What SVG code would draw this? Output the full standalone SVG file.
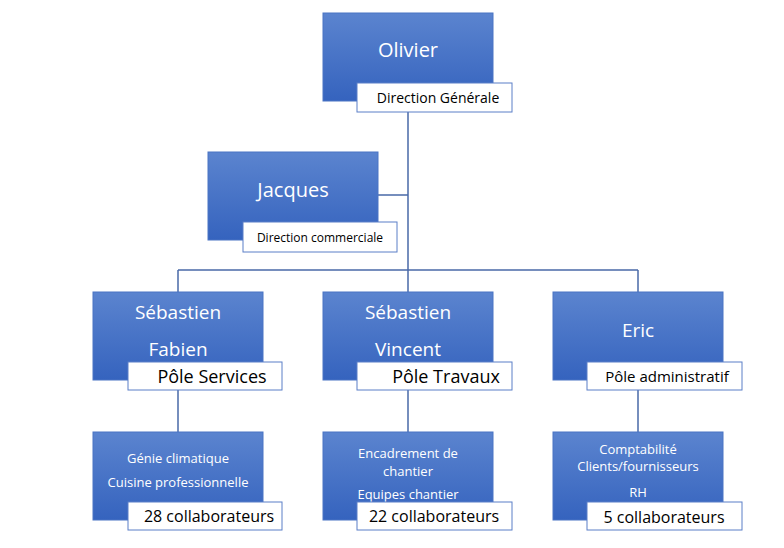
<svg xmlns="http://www.w3.org/2000/svg" width="784" height="548" viewBox="0 0 784 548">
<defs>
<linearGradient id="g" x1="0" y1="0" x2="0" y2="1"><stop offset="0" stop-color="#5b84cf"/><stop offset="1" stop-color="#3563be"/></linearGradient>
<style>
.b{fill:url(#g);stroke:#4a74c4;stroke-width:1}
.l{fill:#fff;stroke:#5b7fc7;stroke-width:1}
.c{stroke:#4a6aa8;stroke-width:1.5;fill:none}
text{font-family:"Open Sans","Liberation Sans",sans-serif;text-anchor:middle}
.w{fill:#fff}
.k{fill:#000}
</style>
</defs>
<rect width="784" height="548" fill="#fff"/>
<g id="connectors">
<path class="c" d="M408 112V270M378 195H408M178 270H638M178 270V292M408 270V292M638 270V292M178 390V432M408 390V432M638 390V432"/>
</g>
<g id="olivier"><rect class="b" x="323" y="13" width="170" height="88"/><text class="w" x="408" y="57" font-size="20">Olivier</text><rect class="l" x="357" y="83" width="155" height="29"/><text class="k" x="438" y="103" font-size="14">Direction Générale</text></g>
<g id="jacques"><rect class="b" x="208" y="152" width="170" height="88"/><text class="w" x="293" y="197" font-size="20">Jacques</text><rect class="l" x="243" y="222" width="154" height="30"/><text class="k" x="320" y="242" font-size="12">Direction commerciale</text></g>
<g id="sebastien1"><rect class="b" x="93" y="292" width="170" height="88"/><text class="w" x="178" y="319" font-size="19">Sébastien</text><text class="w" x="178" y="356" font-size="19">Fabien</text><rect class="l" x="128" y="362" width="154" height="28"/><text class="k" x="212" y="383" font-size="18">Pôle Services</text></g>
<g id="sebastien2"><rect class="b" x="323" y="292" width="170" height="88"/><text class="w" x="408" y="319" font-size="19">Sébastien</text><text class="w" x="408" y="356" font-size="19">Vincent</text><rect class="l" x="357" y="362" width="155" height="28"/><text class="k" x="446" y="383" font-size="18">Pôle Travaux</text></g>
<g id="eric"><rect class="b" x="553" y="292" width="170" height="88"/><text class="w" x="638" y="337" font-size="19">Eric</text><rect class="l" x="587" y="362" width="155" height="28"/><text class="k" x="667" y="382" font-size="15">Pôle administratif</text></g>
<g id="services"><rect class="b" x="93" y="432" width="170" height="88"/><text class="w" x="178" y="463" font-size="13">Génie climatique</text><text class="w" x="178" y="487" font-size="13">Cuisine professionnelle</text><rect class="l" x="128" y="502" width="154" height="28"/><text class="k" x="209" y="522" font-size="16">28 collaborateurs</text></g>
<g id="travaux"><rect class="b" x="323" y="432" width="170" height="88"/><text class="w" x="408" y="458" font-size="13">Encadrement de</text><text class="w" x="408" y="476" font-size="13">chantier</text><text class="w" x="408" y="499" font-size="13">Equipes chantier</text><rect class="l" x="357" y="502" width="155" height="28"/><text class="k" x="434" y="522" font-size="16">22 collaborateurs</text></g>
<g id="admin"><rect class="b" x="553" y="432" width="170" height="88"/><text class="w" x="638" y="454" font-size="13">Comptabilité</text><text class="w" x="638" y="471" font-size="13">Clients/fournisseurs</text><text class="w" x="638" y="497" font-size="13">RH</text><rect class="l" x="587" y="502" width="155" height="28"/><text class="k" x="664" y="523" font-size="16">5 collaborateurs</text></g>
</svg>
